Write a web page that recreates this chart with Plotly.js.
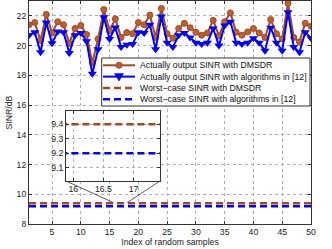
<!DOCTYPE html>
<html>
<head>
<meta charset="utf-8">
<script src="https://cdn.plot.ly/plotly-3.0.1.min.js"></script>
<style>html,body{margin:0;padding:0;background:#fff;}#chart{width:332px;height:249px;}</style>
</head>
<body>
<div id="chart"></div>
<script>
// ---- data ----
var sampleIndex = [];
for (var k = 1; k <= 50; k++) sampleIndex.push(k);
var sinrDMSDR = [21.4, 21.55, 20.35, 22.1, 20.85, 21.6, 21.4, 20.15, 21.15, 21.35,
                 20.75, 18.85, 20.45, 22.42, 21.0, 21.8, 20.55, 20.88, 20.8, 21.55,
                 21.4, 22.05, 20.55, 22.5, 20.8, 20.5, 21.15, 21.5, 21.2, 20.9,
                 20.7, 20.85, 21.7, 20.65, 21.6, 22.2, 20.9, 20.7, 20.92, 21.15,
                 20.85, 20.55, 21.75, 20.8, 20.45, 22.85, 20.55, 20.25, 21.5, 21.3];
var sinrAlg12 = [20.7, 20.9, 19.55, 21.55, 20.15, 20.95, 20.9, 19.5, 20.7, 20.85,
                 20.3, 18.1, 19.75, 21.9, 20.45, 21.22, 19.9, 20.05, 20.1, 20.9,
                 20.85, 21.4, 19.75, 21.95, 20.2, 19.9, 20.7, 20.85, 20.55, 20.2,
                 20.1, 20.2, 21.15, 20.0, 21.35, 21.6, 20.2, 20.1, 20.2, 20.5,
                 20.2, 19.65, 21.2, 20.2, 19.65, 22.25, 19.9, 19.55, 20.9, 20.5];
var worstDMSDRValue = 9.4;
var worstAlg12Value = 9.2;
var worstDMSDR = sampleIndex.map(function(){ return worstDMSDRValue; });
var worstAlg12 = sampleIndex.map(function(){ return worstAlg12Value; });
var legendLabels = ['Actually output SINR with DMSDR',
                    'Actually output SINR with algorithms in [12]',
                    'Worst\u2212case SINR with DMSDR',
                    'Worst\u2212case SINR with algorithms in [12]'];
var xTicks = [5, 10, 15, 20, 25, 30, 35, 40, 45, 50];
var yTicks = [8, 10, 12, 14, 16, 18, 20, 22];
var insetXTicks = [16, 16.5, 17];
var insetYTicks = [9.1, 9.2, 9.3, 9.4];

// ---- style ----
var BROWN = '#A5481C', BROWN_FILL = '#BD5F2E', BLUE = '#0000FF';
var FONT = 'Liberation Sans, Arial, sans-serif';
var FS = 8.7;
var W = 332, H = 249, ML = 29, MR = 21, MT = 1, MB = 25;
var PW = W - ML - MR, PH = H - MT - MB;
function px(x){ return (x - ML) / PW; }
function py(y){ return (H - MB - y) / PH; }

var traces = [
  {x: sampleIndex, y: sinrDMSDR, type: 'scatter', mode: 'lines+markers', name: legendLabels[0],
   line: {color: BROWN, width: 2}, marker: {symbol: 'circle', size: 6, color: BROWN_FILL, line: {color: BROWN, width: 1}}},
  {x: sampleIndex, y: sinrAlg12, type: 'scatter', mode: 'lines+markers', name: legendLabels[1],
   line: {color: BLUE, width: 2}, marker: {symbol: 'triangle-down', size: 8, color: BLUE}},
  {x: sampleIndex, y: worstDMSDR, type: 'scatter', mode: 'lines', name: legendLabels[2],
   line: {color: BROWN, width: 2.5, dash: '7px,4px'}},
  {x: sampleIndex, y: worstAlg12, type: 'scatter', mode: 'lines', name: legendLabels[3],
   line: {color: BLUE, width: 2.5, dash: '7px,4px'}},
  {x: sampleIndex, y: worstDMSDR, xaxis: 'x2', yaxis: 'y2', type: 'scatter', mode: 'lines',
   line: {color: BROWN, width: 2.5, dash: '7px,4px'}, showlegend: false},
  {x: sampleIndex, y: worstAlg12, xaxis: 'x2', yaxis: 'y2', type: 'scatter', mode: 'lines',
   line: {color: BLUE, width: 2.5, dash: '7px,4px'}, showlegend: false}
];

var axCommon = {
  ticks: 'inside', ticklen: 3, tickcolor: '#333', showline: true, linecolor: '#333', linewidth: 1,
  mirror: 'ticks', showgrid: true, gridcolor: '#b0b0b0', griddash: 'dot', gridwidth: 1, zeroline: false,
  tickfont: {family: FONT, size: FS, color: '#222'}
};
function ax(o){ var r = {}; for (var k in axCommon) r[k] = axCommon[k]; for (var k2 in o) r[k2] = o[k2]; return r; }

var shapes = [];
var annotations = [];
// legend box
var LX0 = 101.7, LX1 = 310, LY0 = 58, LY1 = 106;
shapes.push({type: 'rect', xref: 'paper', yref: 'paper', x0: px(LX0), x1: px(LX1), y0: py(LY1), y1: py(LY0),
  line: {color: '#333', width: 1}, fillcolor: '#fff', layer: 'above'});
var rowY = [65.3, 76.6, 88, 99.3];
var rowColors = [BROWN, BLUE, BROWN, BLUE];
for (var r = 0; r < 4; r++) {
  shapes.push({type: 'line', xref: 'paper', yref: 'paper', x0: px(103), x1: px(135), y0: py(rowY[r]), y1: py(rowY[r]),
    line: {color: rowColors[r], width: r < 2 ? 2 : 2.5, dash: r < 2 ? 'solid' : '7px,4px'}, layer: 'above'});
  annotations.push({xref: 'paper', yref: 'paper', x: px(138), y: py(rowY[r]), xanchor: 'left', yanchor: 'middle',
    text: legendLabels[r], showarrow: false, font: {family: FONT, size: FS, color: '#111'}});
}
shapes.push({type: 'circle', xref: 'paper', yref: 'paper', xsizemode: 'pixel', ysizemode: 'pixel',
  xanchor: px(119), yanchor: py(rowY[0]), x0: -3, x1: 3, y0: -3, y1: 3,
  fillcolor: BROWN_FILL, line: {color: BROWN, width: 1}, layer: 'above'});
shapes.push({type: 'path', xref: 'paper', yref: 'paper', xsizemode: 'pixel', ysizemode: 'pixel',
  xanchor: px(119), yanchor: py(rowY[1]), path: 'M -4.5 3 L 4.5 3 L 0 -4.5 Z',
  fillcolor: BLUE, line: {color: BLUE, width: 0.5}, layer: 'above'});
// zoom callout lines
shapes.push({type: 'line', xref: 'paper', yref: 'paper', x0: px(66), y0: py(181), x1: px(113.3), y1: py(202.5),
  line: {color: '#333', width: 0.8}});
shapes.push({type: 'line', xref: 'paper', yref: 'paper', x0: px(160), y0: py(181), x1: px(127.3), y1: py(202.5),
  line: {color: '#333', width: 0.8}});

var layout = {
  width: W, height: H, margin: {l: ML, r: MR, t: MT, b: MB, pad: 0},
  paper_bgcolor: '#fff', plot_bgcolor: '#fff', showlegend: false,
  font: {family: FONT, size: FS, color: '#222'},
  xaxis: ax({domain: [0, 1], range: [1, 50], tickvals: xTicks, anchor: 'y',
    title: {text: 'Index of random samples', font: {family: FONT, size: FS, color: '#222'}, standoff: 2}}),
  yaxis: ax({domain: [0, 1], range: [8, 23], tickvals: yTicks, anchor: 'x',
    title: {text: 'SINR/dB', font: {family: FONT, size: FS, color: '#222'}, standoff: 2}}),
  xaxis2: ax({domain: [px(66), px(160)], range: [15.88, 17.44], tickvals: insetXTicks, ticktext: ['16', '16.5', '17'], anchor: 'y2'}),
  yaxis2: ax({domain: [py(181), py(111)], range: [9.01, 9.49], tickvals: insetYTicks, ticktext: ['9.1', '9.2', '9.3', '9.4'], anchor: 'x2'}),
  shapes: shapes,
  annotations: annotations
};

Plotly.newPlot('chart', traces, layout, {staticPlot: true, displayModeBar: false});
</script>
</body>
</html>
